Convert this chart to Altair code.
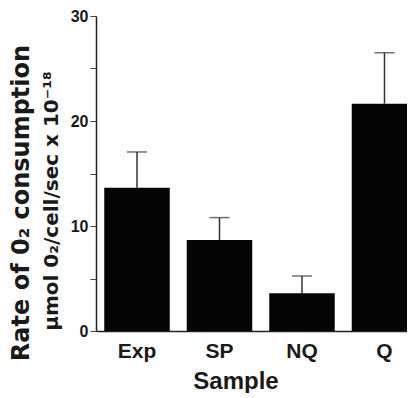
import altair as alt
import pandas as pd

samples = ["Exp", "SP", "NQ", "Q"]
rates = [13.65, 8.67, 3.59, 21.65]
err_top = [17.05, 10.8, 5.24, 26.5]

df = pd.DataFrame({"Sample": samples, "Rate": rates, "Err": err_top})

FONT = "Liberation Sans"
TFONT = "DejaVu Sans"
W, H = 311, 315

xscale = alt.Scale(domain=samples, range=[0, 329.5], paddingInner=0.206, paddingOuter=0.1)
yscale = alt.Scale(domain=[0, 30], nice=False)

x_enc = alt.X("Sample:N", scale=xscale, sort=samples,
              axis=alt.Axis(title=None, ticks=False, labelFont=FONT, labelFontSize=21,
                            labelFontWeight="bold", labelColor="#1a1a1a", labelPadding=9,
                            domainColor="#222", domainWidth=1.5, labelAngle=0))

bars = alt.Chart(df).mark_bar(color="#050505").encode(
    x=x_enc,
    y=alt.Y("Rate:Q", scale=yscale,
            axis=alt.Axis(title=None, values=[0, 5, 10, 15, 20, 25, 30],
                          labelExpr="datum.value % 10 == 0 ? datum.label : ''",
                          grid=False, tickSize=6, tickColor="#444", tickWidth=1,
                          labelFont=FONT, labelFontSize=16, labelFontWeight="bold",
                          labelColor="#1a1a1a", labelPadding=2,
                          domainColor="#222", domainWidth=1.5)),
)

rules = alt.Chart(df).mark_rule(color="#333", strokeWidth=1.5).encode(
    x=alt.X("Sample:N", scale=xscale, sort=samples),
    y=alt.Y("Rate:Q", scale=yscale),
    y2="Err:Q",
)

caps = alt.Chart(df).mark_tick(color="#333", size=20, thickness=1.5).encode(
    x=alt.X("Sample:N", scale=xscale, sort=samples),
    y=alt.Y("Err:Q", scale=yscale),
)

one = pd.DataFrame({"a": [1]})
title1 = alt.Chart(one).mark_text(
    text="Rate of 0₂ consumption", angle=270, font=TFONT, fontSize=24,
    fontWeight="bold", color="#1a1a1a", align="center", baseline="middle",
).encode(x=alt.value(-74), y=alt.value(187))

title2 = alt.Chart(one).mark_text(
    text="µmol 0₂/cell/sec x 10⁻¹⁸", angle=270, font=TFONT, fontSize=20,
    fontWeight="bold", color="#1a1a1a", align="center", baseline="middle",
).encode(x=alt.value(-44), y=alt.value(185))

xtitle = alt.Chart(one).mark_text(
    text="Sample", font=FONT, fontSize=24, fontWeight="bold", color="#1a1a1a",
    align="center", baseline="alphabetic",
).encode(x=alt.value(140), y=alt.value(H + 58))

chart = alt.layer(bars, rules, caps, title1, title2, xtitle).properties(
    width=W, height=H,
    autosize=alt.AutoSizeParams(type="none"),
    padding={"left": 88, "top": 8, "right": 0, "bottom": 62},
).configure_view(stroke=None)

chart.save("out.html", embed_options={"renderer": "svg", "actions": False})
